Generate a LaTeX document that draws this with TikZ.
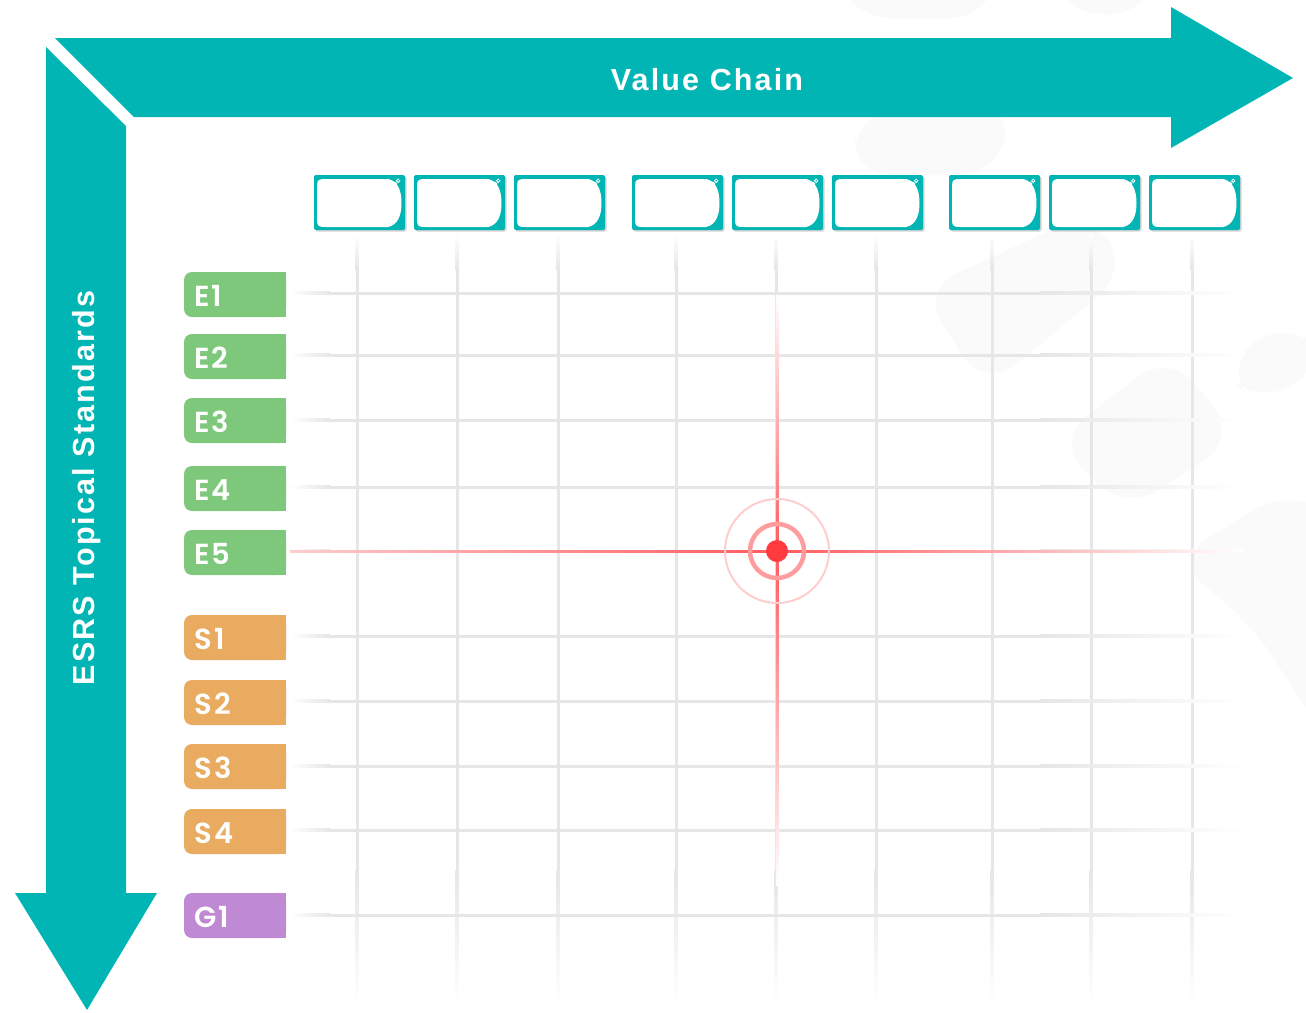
\documentclass[tikz,border=0pt]{standalone}
\usepackage{fontspec}
\setmainfont{Liberation Sans}
\newfontfamily\lblfont{Poppins}[UprightFont=* SemiBold, LetterSpace=8]
\newfontfamily\axisfont{Liberation Sans}[LetterSpace=7]
\usetikzlibrary{shadows}
\definecolor{tealc}{HTML}{00B5B3}
\definecolor{greenc}{HTML}{7DC87A}
\definecolor{orangec}{HTML}{E9AB5F}
\definecolor{purplec}{HTML}{BF89D3}
\definecolor{gridc}{HTML}{E6E6E6}
\definecolor{blobc}{HTML}{FAFAFA}
\definecolor{redc}{HTML}{FF3B3F}
\definecolor{redline}{HTML}{FF5A5E}
\definecolor{ringmid}{HTML}{FF9C9E}
\definecolor{ringout}{HTML}{FFCDCE}
\tikzset{
  blob/.style={fill=blobc, rounded corners=40},
  lbltext/.style={anchor=west, text=white, font=\lblfont\fontsize{29}{29}\selectfont, inner sep=0pt},
  axistext/.style={text=white, font=\axisfont\fontsize{30.5}{30.5}\selectfont\bfseries, inner sep=0pt},
  boxshadow/.style={drop shadow={shadow xshift=1.5pt, shadow yshift=-1.5pt, opacity=0.35, fill=gray}},
}
\begin{document}
\begin{tikzpicture}[x=1pt,y=-1pt]
\useasboundingbox (0,0) rectangle (1306,1012);
% background blobs
\fill[blob] (830,-40) -- (1000,-40) -- (990,18) -- (850,18) -- cycle;
\fill[blob] (1050,-40) -- (1160,-40) -- (1150,14) -- (1060,14) -- cycle;
\fill[blob] (850,175) -- (860,110) -- (1010,100) -- (1000,175) -- cycle;
\fill[blob] (920,290) -- (1090,212) -- (1130,270) -- (985,390) -- cycle;
\fill[blob] (1055,440) -- (1170,352) -- (1238,438) -- (1125,512) -- cycle;
\fill[blob] (1222,368) -- (1285,318) -- (1330,360) -- (1258,407) -- cycle;
\fill[blob] (1172,560) -- (1290,488) -- (1340,520) -- (1340,760) -- (1250,622) -- cycle;
% grid: vertical lines
\foreach \gx in {357,457,558,676,776,876,992,1091,1192}{
  \shade[top color=white, bottom color=gridc] (\gx-1.5,234) rectangle (\gx+1.5,270);
  \fill[gridc] (\gx-1.5,270) rectangle (\gx+1.5,870);
  \shade[top color=gridc, bottom color=white] (\gx-1.5,870) rectangle (\gx+1.5,1005);
}
% grid: horizontal lines
\foreach \gy in {293,355,420,487,551,636,701,766,830,915}{
  \shade[left color=white, right color=gridc] (290,\gy-1.5) rectangle (330,\gy+1.5);
  \fill[gridc] (330,\gy-1.5) rectangle (1040,\gy+1.5);
  \shade[left color=gridc, right color=white] (1040,\gy-1.5) rectangle (1245,\gy+1.5);
}
% red crosshair
\shade[left color=ringout, right color=redline] (290,550) rectangle (777,552.5);
\shade[left color=redline, right color=white] (777,550) rectangle (1245,552.5);
\shade[top color=white, bottom color=redline] (775.8,295) rectangle (778.3,551);
\shade[top color=redline, bottom color=white] (775.8,551) rectangle (778.3,885);
% target
\coordinate (target) at (777,551);
\draw[ringout, line width=2] (target) circle (52);
\draw[ringmid, line width=4.5] (target) circle (27);
\fill[redc] (target) circle (11);
% value chain boxes
\foreach \bx [count=\i] in {314,414,514,632,732,832,949,1049,1149}{
  \begin{scope}[shift={(\bx,175)}]
    \fill[tealc, rounded corners=2, boxshadow] (0,0) rectangle (91,55);
    \fill[white] (3,11) .. controls (3,4.5) and (5,4) .. (12,4) -- (74,4)
      .. controls (84,6) and (87.5,16) .. (87.5,28)
      .. controls (87.5,40) and (84,50) .. (74,52) -- (12,52)
      .. controls (5,52) and (3,51.5) .. (3,45) -- cycle;
    \node[inner sep=0pt, minimum size=0pt] (vc\i) at (45.5,27.5) {};
    \draw[white, line width=0.8] (81.2,8.8) circle (1.7) (84.2,5.8) circle (1.7);
  \end{scope}
}
% row labels
\foreach \name/\ly/\col in {E1/272/greenc, E2/334/greenc, E3/398/greenc, E4/466/greenc, E5/530/greenc,
  S1/615/orangec, S2/680/orangec, S3/744/orangec, S4/809/orangec, G1/893/purplec}{
  \fill[\col, rounded corners=8] (184,\ly) rectangle (286,\ly+45);
  \fill[\col] (240,\ly) rectangle (286,\ly+45);
  \node[lbltext] (\name) at (194,\ly+24) {\name};
}
% horizontal arrow
\fill[tealc] (55,38) -- (1171,38) -- (1171,7) -- (1293,78) -- (1171,148) -- (1171,117) -- (134,117) -- cycle;
\node[axistext] (valuechain) at (707,80) {Value Chain};
% vertical arrow
\fill[tealc] (46,47) -- (126,126) -- (126,893) -- (157,893) -- (87,1010) -- (15,893) -- (46,893) -- cycle;
\node[axistext, rotate=90] (esrs) at (87,488) {ESRS Topical Standards};
\end{tikzpicture}
\end{document}
